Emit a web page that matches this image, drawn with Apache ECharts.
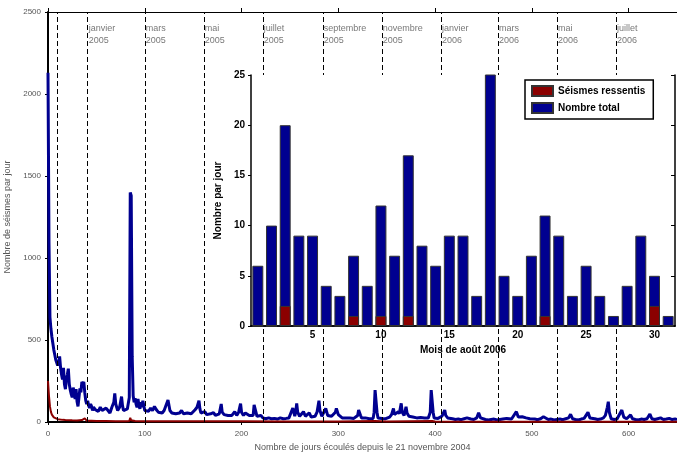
<!DOCTYPE html>
<html><head><meta charset="utf-8">
<script src="https://cdn.jsdelivr.net/npm/echarts@6/dist/echarts.min.js"></script>
<style>html,body{margin:0;padding:0;background:#fff}#c{width:677px;height:454px}</style>
</head><body><div id="c"></div>
<script>
// Main chart: daily totals since 21 Nov 2004
const totalDays = [
0,1,2,3,4,5,6,7,8,9,
10,11,12,13,14,15,16,17,18,19,
20,21,22,23,24,25,26,27,28,29,
30,31,32,33,34,35,36,37,38,39,
40,41,42,43,44,45,46,47,48,49,
50,52,54,56,58,60,62,64,66,68,
69,70,72,74,76,77,78,80,82,84,
85,86,87,88,89,90,91,92,93,94,
95,96,97,98,99,100,102,104,106,108,
110,112,114,116,118,120,122,124,126,128,
130,132,134,136,138,140,142,144,146,148,
150,152,154,156,157,158,160,162,164,166,
168,170,171,173,175,177,179,180,182,184,
186,188,190,192,193,195,197,199,200,202,
204,205,206,208,210,212,213,214,216,218,
220,222,225,228,231,234,237,240,243,246,
249,251,253,255,256,257,258,260,262,264,
266,268,270,272,274,276,278,280,281,283,
285,287,289,291,293,295,297,298,300,302,
304,306,308,310,312,314,316,318,320,321,
322,323,324,326,328,330,332,334,336,337,
338,339,340,341,343,345,347,349,351,353,
355,357,358,360,362,363,365,366,368,370,
371,373,375,377,379,381,383,385,387,389,
391,393,395,396,397,398,399,401,403,405,
407,409,410,411,413,415,418,421,424,427,
430,433,435,437,440,443,445,447,449,452,
455,458,461,464,467,470,472,474,476,479,
481,484,486,488,490,492,494,496,498,500,
503,506,509,512,514,517,520,523,526,529,
532,535,538,540,542,545,548,551,554,556,
558,560,562,565,568,571,574,576,578,579,
580,582,585,588,590,593,595,598,600,602,
604,607,610,613,616,619,622,624,627,630,
633,636,639,642,645,648,650];
const totalCounts = [
2130,1100,640,570,520,480,440,410,380,370,
345,360,400,330,290,260,330,230,200,260,
290,325,230,195,170,150,210,185,140,200,
125,95,150,205,180,245,230,245,180,130,
110,130,100,85,110,95,70,90,100,75,
80,65,90,70,60,85,70,55,90,120,
175,110,70,90,155,100,70,60,80,150,
1400,1380,400,160,120,145,110,90,140,100,
80,120,90,130,100,70,80,65,85,70,
95,75,60,70,55,70,80,134,70,55,
65,50,60,55,70,50,60,55,65,50,
60,75,90,130,80,55,45,63,45,40,
50,45,57,40,35,50,110,60,45,35,
40,50,40,45,63,40,60,112,60,40,
55,63,60,40,30,40,104,104,35,30,
40,25,20,25,20,22,18,25,20,22,
25,35,85,35,60,114,60,35,40,63,
35,30,55,30,25,35,60,130,70,35,
30,83,40,30,35,45,60,83,45,35,
25,20,25,20,25,20,22,25,40,73,
73,40,25,20,25,22,20,25,22,60,
195,195,60,25,20,22,25,20,25,30,
45,83,45,35,63,50,114,60,40,93,
55,35,25,30,22,25,20,28,22,25,
30,25,60,195,195,60,25,20,22,25,
35,45,73,40,25,18,20,15,18,14,
20,25,28,18,15,25,57,25,18,15,
12,15,18,12,15,18,15,22,15,18,
25,63,30,25,32,20,25,18,20,15,
18,14,20,32,20,15,18,12,15,18,
14,20,25,47,20,15,12,18,22,30,
59,25,15,20,15,18,25,40,90,124,
60,20,15,18,25,73,30,20,25,43,
20,15,12,18,15,20,49,20,15,20,
25,15,18,22,15,18,15];
// Felt earthquakes per day
const feltDays = [0,1,2,3,4,5,6,7,8,10,12,15,18,20,25,30,35,37,38,39,40,45,50,60,70,80,84,85,86,90,100,120,150,200,250,300,338,350,397,400,450,500,550,600,650];
const feltCounts = [250,160,95,62,45,35,28,23,20,17,15,13,12,10,10,9,12,20,22,12,8,7,6,6,5,5,6,25,10,6,5,5,4,4,3,3,6,3,6,3,2,2,2,2,2];
// Month boundaries (days since 21 Nov 2004)
const monthDays = [10, 41, 100, 161, 222, 284, 345, 406, 465, 526, 587];
const monthLabels = ['', 'janvier\n2005', 'mars\n2005', 'mai\n2005', 'juillet\n2005', 'septembre\n2005', 'novembre\n2005', 'janvier\n2006', 'mars\n2006', 'mai\n2006', 'juillet\n2006'];
// Inset: August 2006
const augDays = ['1','2','3','4','5','6','7','8','9','10','11','12','13','14','15','16','17','18','19','20','21','22','23','24','25','26','27','28','29','30','31'];
const augTotal = [6,10,20,9,9,4,3,7,4,12,7,17,8,6,9,9,3,26,5,3,7,11,9,3,6,3,1,4,9,5,1];
const augFelt  = [0,0,2,0,0,0,0,1,0,1,0,1,0,0,0,0,0,0,0,0,0,1,0,0,0,0,0,0,0,2,0];

const FONT = "'Liberation Sans', Arial, sans-serif";
const LABEL_Y = 2365;
const every5 = (i) => (i + 1) % 5 === 0;

const chart = echarts.init(document.getElementById('c'), null, {renderer: 'canvas'});
chart.setOption({
  animation: false,
  backgroundColor: '#fff',
  textStyle: {fontFamily: FONT},
  grid: [
    {left: 48, top: 12, right: 0, bottom: 32, outerBoundsMode: 'none', containLabel: false},
    {left: 251, top: 75, width: 424, height: 251, show: true, backgroundColor: '#fff', borderWidth: 0, z: 10, outerBoundsMode: 'none', containLabel: false}
  ],
  legend: {
    left: 525, top: 80, orient: 'vertical', z: 20, icon: 'rect',
    borderColor: '#000', borderWidth: 1.5, backgroundColor: '#fff',
    padding: [5, 8, 5, 6], itemGap: 5, itemWidth: 21, itemHeight: 10,
    textStyle: {fontWeight: 'bold', fontSize: 10, fontFamily: FONT, color: '#000'},
    data: ['Séismes ressentis', 'Nombre total']
  },
  xAxis: [
    {type: 'value', gridIndex: 0, min: 0, max: 650, interval: 100, position: 'bottom',
     name: 'Nombre de jours écoulés depuis le 21 novembre 2004', nameLocation: 'middle', nameGap: 21,
     nameTextStyle: {fontSize: 9, color: '#555', fontFamily: FONT},
     axisLine: {lineStyle: {color: '#000', width: 2}},
     axisTick: {length: 3, lineStyle: {color: '#000'}},
     axisLabel: {fontSize: 8, color: '#555', margin: 8, fontFamily: FONT, showMaxLabel: false, formatter: v => String(v)},
     splitLine: {show: false}},
    {type: 'value', gridIndex: 0, min: 0, max: 650, interval: 100, position: 'top',
     axisLine: {lineStyle: {color: '#000', width: 1.2}},
     axisTick: {length: 4, lineStyle: {color: '#000'}},
     axisLabel: {show: false}, splitLine: {show: false}},
    {type: 'category', gridIndex: 1, data: augDays, position: 'bottom', z: 12,
     name: 'Mois de août 2006', nameLocation: 'middle', nameGap: 17,
     nameTextStyle: {fontSize: 10, fontWeight: 'bold', color: '#000', fontFamily: FONT},
     axisLine: {lineStyle: {color: '#000', width: 1.5}},
     axisTick: {alignWithLabel: true, interval: every5, length: 3, lineStyle: {color: '#000'}},
     axisLabel: {interval: every5, fontSize: 10, fontWeight: 'bold', color: '#000', margin: 4, fontFamily: FONT},
     splitLine: {show: false}},
    {type: 'category', gridIndex: 1, data: augDays, position: 'top', z: 12,
     axisLine: {lineStyle: {color: '#000', width: 1.5}},
     axisTick: {alignWithLabel: true, interval: every5, inside: true, length: 4, lineStyle: {color: '#000'}},
     axisLabel: {show: false}, splitLine: {show: false}}
  ],
  yAxis: [
    {type: 'value', gridIndex: 0, min: 0, max: 2500, interval: 500,
     name: 'Nombre de séismes par jour', nameLocation: 'middle', nameGap: 35,
     nameTextStyle: {fontSize: 9, color: '#555', fontFamily: FONT},
     axisLine: {show: true, lineStyle: {color: '#000', width: 2}},
     axisTick: {show: true, length: 3, lineStyle: {color: '#000'}},
     axisLabel: {fontSize: 8, color: '#555', margin: 7, fontFamily: FONT, formatter: v => String(v)},
     splitLine: {show: false}},
    {type: 'value', gridIndex: 1, min: 0, max: 25, interval: 5, position: 'left', z: 12,
     name: 'Nombre par jour', nameLocation: 'middle', nameGap: 24,
     nameTextStyle: {fontSize: 10, fontWeight: 'bold', color: '#000', fontFamily: FONT},
     axisLine: {show: true, lineStyle: {color: '#000', width: 1.5}},
     axisTick: {show: true, length: 3, lineStyle: {color: '#000'}},
     axisLabel: {fontSize: 10, fontWeight: 'bold', color: '#000', margin: 6, fontFamily: FONT},
     splitLine: {show: false}},
    {type: 'value', gridIndex: 1, min: 0, max: 25, interval: 5, position: 'right', z: 12,
     axisLine: {show: true, lineStyle: {color: '#000', width: 1.5}},
     axisTick: {show: true, inside: true, length: 4, lineStyle: {color: '#000'}},
     axisLabel: {show: false}, splitLine: {show: false}}
  ],
  series: [
    {type: 'line', name: 'total', xAxisIndex: 0, yAxisIndex: 0, z: 2,
     data: totalDays.map((d, i) => [d, totalCounts[i]]),
     symbol: 'none', lineStyle: {color: '#000090', width: 3},
     markLine: {silent: true, symbol: ['none', 'none'], label: {show: false},
       lineStyle: {type: [5, 3], color: '#000', width: 1},
       data: monthDays.map(d => ({xAxis: d}))}},
    {type: 'line', name: 'felt', xAxisIndex: 0, yAxisIndex: 0, z: 3,
     data: feltDays.map((d, i) => [d, feltCounts[i]]),
     symbol: 'none', lineStyle: {color: '#8B0000', width: 2}},
    {type: 'scatter', name: 'months', xAxisIndex: 0, yAxisIndex: 0, z: 3,
     symbolSize: 0, silent: true,
     data: monthDays.map((d, i) => ({value: [d, LABEL_Y], label: {formatter: monthLabels[i]}})),
     label: {show: true, position: 'right', distance: 1, fontSize: 9, lineHeight: 12, color: '#555', align: 'left', fontFamily: FONT}},
    {type: 'bar', name: 'Nombre total', xAxisIndex: 2, yAxisIndex: 1, z: 12,
     data: augTotal, barCategoryGap: '20%', barGap: '-100%',
     itemStyle: {color: '#000090', borderColor: '#333', borderWidth: 1}},
    {type: 'bar', name: 'Séismes ressentis', xAxisIndex: 2, yAxisIndex: 1, z: 13,
     data: augFelt, barCategoryGap: '20%', barGap: '-100%',
     itemStyle: {color: '#8B0000', borderColor: '#333', borderWidth: 1}}
  ]
});
</script>
</body></html>
